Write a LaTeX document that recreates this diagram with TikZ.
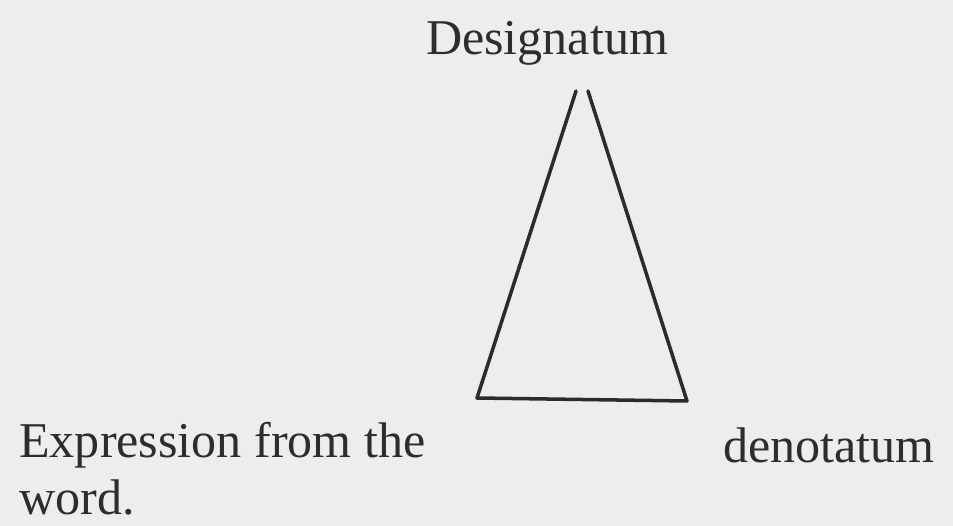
\documentclass[tikz,border=0pt]{standalone}
\usepackage{fontspec}
\setmainfont{Liberation Serif}
\usetikzlibrary{positioning,calc}
\definecolor{Paper}{HTML}{ECEEEE}
\definecolor{Ink}{HTML}{2C2D2D}
\definecolor{Stroke}{HTML}{2A2B2C}
\tikzset{
  term/.style={text=Ink,inner sep=0pt,align=left,font=\fontsize{28.5}{32.5}\selectfont},
  side/.style={draw=Stroke,line width=2pt,line cap=round,line join=round}
}
\begin{document}
\begin{tikzpicture}[x=0.02cm,y=-0.02cm]
      \fill[Paper] (0,0) rectangle (953,526);
      \useasboundingbox (0,0) rectangle (953,526);
      \node[term,anchor=base] (des) at (547,55) {Designatum};
      % base anchor sits on the last line
      \node[term,anchor=base west] (expr) at (19,515) {Expression from the\\word.};
      \node[term,anchor=base west] (deno) at (723,462) {denotatum};
      \coordinate (topl) at (576,91);
      \coordinate (topr) at (588,91);
      \coordinate (botl) at (477,398);
      \coordinate (botr) at (687,401);
      \draw[side] (topl) -- (botl) -- (botr) -- (topr);
    \end{tikzpicture}
\end{document}
